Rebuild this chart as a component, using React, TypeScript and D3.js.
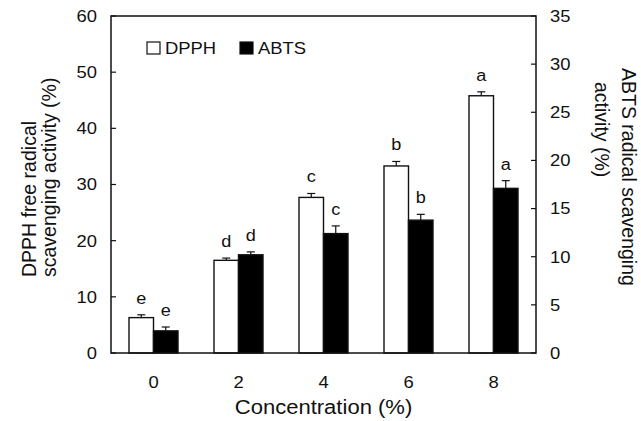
import { useRef, useEffect } from 'react';
import * as d3 from 'd3';

// concentrations (%)
const concentrations = ['0', '2', '4', '6', '8'];
// DPPH scavenging (%), left axis
const dpphValues = [6.3, 16.5, 27.7, 33.3, 45.8];
const dpphErrors = [0.5, 0.4, 0.7, 0.8, 0.7];
const dpphLetters = ['e', 'd', 'c', 'b', 'a'];
// ABTS scavenging (%), right axis
const abtsValues = [2.3, 10.2, 12.4, 13.8, 17.1];
const abtsErrors = [0.4, 0.3, 0.8, 0.6, 0.8];
const abtsLetters = ['e', 'd', 'c', 'b', 'a'];

const leftTicks = [0, 10, 20, 30, 40, 50, 60];
const rightTicks = [0, 5, 10, 15, 20, 25, 30, 35];
const seriesNames = ['DPPH', 'ABTS'];

export default function App() {
  const svgRef = useRef<SVGSVGElement>(null);

  useEffect(() => {
    const svg = svgRef.current;
    if (!svg) return;

    const width = 641;
    const height = 421;
    const margin = { top: 16, right: 105, bottom: 68, left: 111 };
    const x0 = margin.left;
    const x1 = width - margin.right;
    const y0 = height - margin.bottom;
    const y1 = margin.top;
    const font = '"Liberation Sans", Arial, sans-serif';
    const ink = '#111';
    const SX = 1.13; // reference text is a bit wide

    const sel = d3.select(svg);
    sel.selectAll('*').remove();
    sel.attr('viewBox', `0 0 ${width} ${height}`);

    const x = d3.scaleBand<string>().domain(concentrations).range([x0, x1]);
    const xs = d3
      .scaleBand<string>()
      .domain(seriesNames)
      .range([0, x.bandwidth()])
      .paddingOuter(0.735);
    const yL = d3.scaleLinear().domain([0, 60]).range([y0, y1]);
    const yR = d3.scaleLinear().domain([0, 35]).range([y0, y1]);

    const hText = (
      tx: number,
      ty: number,
      str: string,
      size: number,
      anchor: string,
      dy = '0'
    ) => {
      sel
        .append('g')
        .attr('transform', `translate(${tx},${ty}) scale(${SX},1)`)
        .append('text')
        .attr('text-anchor', anchor)
        .attr('dy', dy)
        .attr('font-family', font)
        .attr('font-size', size)
        .attr('fill', ink)
        .text(str);
    };

    // bars
    const groups = [
      { name: 'DPPH', vals: dpphValues, errs: dpphErrors, letters: dpphLetters, y: yL, fill: '#fff' },
      { name: 'ABTS', vals: abtsValues, errs: abtsErrors, letters: abtsLetters, y: yR, fill: '#000' },
    ];
    groups.forEach((s) => {
      concentrations.forEach((c, i) => {
        const bx = (x(c) ?? 0) + (xs(s.name) ?? 0);
        const bw = xs.bandwidth();
        const top = s.y(s.vals[i]);
        const errTop = s.y(s.vals[i] + s.errs[i]);
        const cx = bx + bw / 2;
        sel
          .append('rect')
          .attr('x', bx)
          .attr('y', top)
          .attr('width', bw)
          .attr('height', y0 - top)
          .attr('fill', s.fill)
          .attr('stroke', ink)
          .attr('stroke-width', 1.4);
        sel
          .append('line')
          .attr('x1', cx)
          .attr('x2', cx)
          .attr('y1', top)
          .attr('y2', errTop)
          .attr('stroke', ink)
          .attr('stroke-width', 1.2);
        sel
          .append('line')
          .attr('x1', cx - 4)
          .attr('x2', cx + 4)
          .attr('y1', errTop)
          .attr('y2', errTop)
          .attr('stroke', ink)
          .attr('stroke-width', 1.2);
        hText(cx, errTop - 11, s.letters[i], 16, 'middle');
      });
    });

    // frame
    sel
      .append('rect')
      .attr('x', x0)
      .attr('y', y1)
      .attr('width', x1 - x0)
      .attr('height', y0 - y1)
      .attr('fill', 'none')
      .attr('stroke', ink)
      .attr('stroke-width', 1.5);

    // left axis (ticks inward)
    leftTicks.forEach((t) => {
      sel
        .append('line')
        .attr('x1', x0)
        .attr('x2', x0 + 5)
        .attr('y1', yL(t))
        .attr('y2', yL(t))
        .attr('stroke', ink)
        .attr('stroke-width', 1.2);
      hText(x0 - 14, yL(t), String(t), 16.3, 'end', '0.36em');
    });

    // right axis (ticks inward)
    rightTicks.forEach((t) => {
      sel
        .append('line')
        .attr('x1', x1 - 5)
        .attr('x2', x1)
        .attr('y1', yR(t))
        .attr('y2', yR(t))
        .attr('stroke', ink)
        .attr('stroke-width', 1.2);
      hText(x1 + 14, yR(t), String(t), 16.3, 'start', '0.36em');
    });

    // x tick labels
    concentrations.forEach((c) => {
      hText((x(c) ?? 0) + x.bandwidth() / 2, 388, c, 16.3, 'middle');
    });

    // x title
    hText((x0 + x1) / 2, 414, 'Concentration (%)', 19.5, 'middle');

    // left title
    const leftLines = [
      { str: 'DPPH free radical', bx: 36 },
      { str: 'scavenging activity (%)', bx: 56 },
    ];
    leftLines.forEach((l) => {
      sel
        .append('text')
        .attr('transform', `translate(${l.bx},277) rotate(-90)`)
        .attr('text-anchor', 'start')
        .attr('font-family', font)
        .attr('font-size', 19.5)
        .attr('fill', ink)
        .text(l.str);
    });

    // right title
    const rightLines = [
      { str: 'ABTS radical scavenging', bx: 622, by: 68 },
      { str: 'activity (%)', bx: 595, by: 82 },
    ];
    rightLines.forEach((l) => {
      sel
        .append('text')
        .attr('transform', `translate(${l.bx},${l.by}) rotate(90)`)
        .attr('text-anchor', 'start')
        .attr('font-family', font)
        .attr('font-size', 19.5)
        .attr('fill', ink)
        .text(l.str);
    });

    // legend
    const legend = [
      { name: 'DPPH', fill: '#fff', sx: 147 },
      { name: 'ABTS', fill: '#000', sx: 240 },
    ];
    legend.forEach((l) => {
      sel
        .append('rect')
        .attr('x', l.sx)
        .attr('y', 42)
        .attr('width', 13)
        .attr('height', 12)
        .attr('fill', l.fill)
        .attr('stroke', ink)
        .attr('stroke-width', 1.2);
      hText(l.sx + 18, 54, l.name, 16.3, 'start');
    });
  }, []);

  return (
    <svg
      ref={svgRef}
      width={641}
      height={421}
      style={{ position: 'absolute', left: 0, top: 0, display: 'block', background: '#fff' }}
    />
  );
}
